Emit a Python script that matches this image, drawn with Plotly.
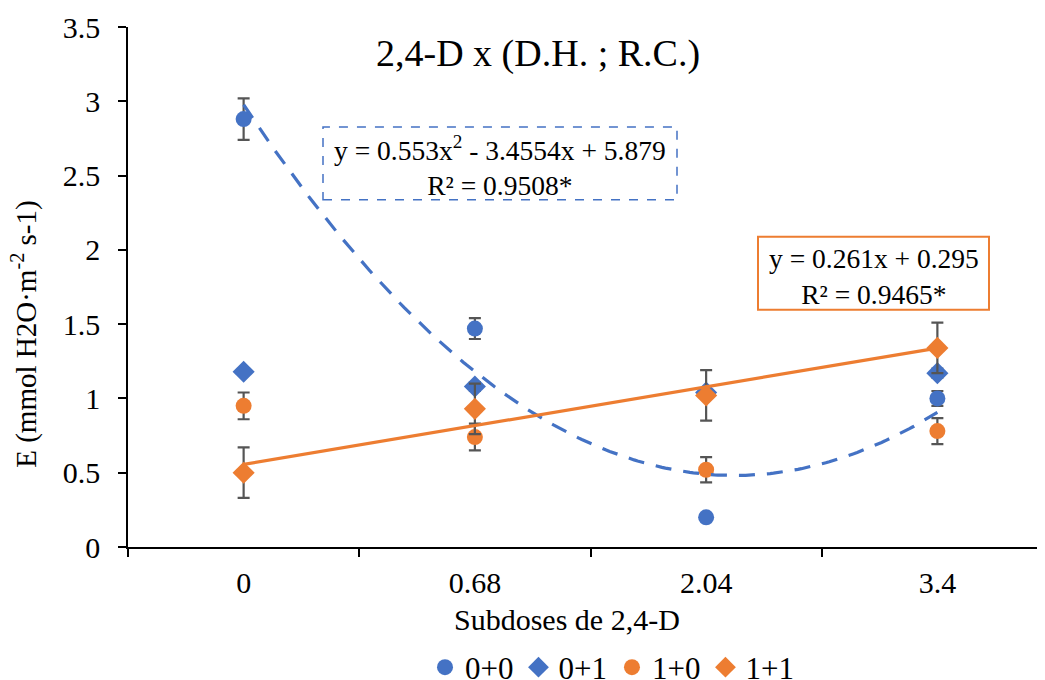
import numpy as np
import plotly.graph_objects as go

# ---- data ----
categories = ["0", "0.68", "2.04", "3.4"]
x_pos = [1, 2, 3, 4]
y_00 = [2.88, 1.47, 0.20, 1.00]
e_00 = [0.14, 0.07, 0.0, 0.05]
y_01 = [1.18, 1.08, 1.04, 1.17]
e_01 = [0.02, 0.03, 0.02, 0.03]
y_10 = [0.95, 0.74, 0.52, 0.78]
e_10 = [0.09, 0.09, 0.085, 0.087]
y_11 = [0.50, 0.93, 1.02, 1.34]
e_11 = [0.17, 0.17, 0.17, 0.17]
quad_coef = [0.553, -3.4554, 5.879]   # trendline for 0+0
lin_coef = [0.261, 0.295]             # trendline for 1+1
y_ticks = [0, 0.5, 1, 1.5, 2, 2.5, 3, 3.5]

BLUE = "#4472C4"
ORANGE = "#ED7D31"
ERR = "#555555"
FONT = "Times New Roman, Liberation Serif, DejaVu Serif, serif"

# page body has an 8px margin: the figure is offset by (8, 8)
OFF = 8
PL, PR, PT, PB = 128, 1053, 27, 547.4   # plot area on screen (px)
PW, PH = PR - PL, PB - PT

def px(x):
    return (x - PL) / PW

def py(y):
    return (PB - y) / PH

fig = go.Figure()

def add_series(y, e, name, color, symbol):
    fig.add_trace(go.Scatter(
        x=x_pos, y=y, name=name, mode="markers",
        marker=dict(color=color, symbol=symbol, size=16 if symbol == "circle" else 17,
                    line=dict(width=0)),
        error_y=dict(type="data", array=e, visible=True, color=ERR,
                     thickness=2.2, width=6),
    ))

add_series(y_00, e_00, "0+0", BLUE, "circle")
add_series(y_01, e_01, "0+1", BLUE, "diamond")
add_series(y_10, e_10, "1+0", ORANGE, "circle")
add_series(y_11, e_11, "1+1", ORANGE, "diamond")

xq = np.linspace(1, 4, 200)
fig.add_trace(go.Scatter(x=xq, y=np.polyval(quad_coef, xq), mode="lines",
                         line=dict(color=BLUE, width=3.2, dash="16px,12px"),
                         showlegend=False, hoverinfo="skip"))
xl = np.array([1, 4])
fig.add_trace(go.Scatter(x=xl, y=np.polyval(lin_coef, xl), mode="lines",
                         line=dict(color=ORANGE, width=3.2),
                         showlegend=False, hoverinfo="skip"))

# invisible trace for category-boundary ticks on a secondary x axis
fig.add_trace(go.Scatter(x=[1], y=[None], xaxis="x2", showlegend=False,
                         hoverinfo="skip"))

W, H = 1045, 680
fig.update_layout(
    width=W, height=H,
    margin=dict(l=PL - OFF, r=W - (PR - OFF), t=PT - OFF, b=H - (PB - OFF),
                autoexpand=False),
    paper_bgcolor="white", plot_bgcolor="white",
    font=dict(family=FONT, color="black", size=26),
    showlegend=True,
    legend=dict(orientation="h", x=px(612), xanchor="center", y=py(668),
                yanchor="middle", font=dict(size=31, family=FONT),
                tracegroupgap=0, itemwidth=30),
    xaxis=dict(range=[0.5, 4.5], tickmode="array", tickvals=x_pos,
               ticktext=categories, ticks="", showgrid=False, zeroline=False,
               showline=True, linecolor="black", linewidth=1.5,
               ticklabelstandoff=8,
               tickfont=dict(size=30, family=FONT)),
    xaxis2=dict(range=[0.5, 4.5], overlaying="x", side="bottom",
                tickmode="array", tickvals=[0.5, 1.5, 2.5, 3.5], showticklabels=False,
                ticks="outside", ticklen=9, tickwidth=1.5, tickcolor="black",
                showgrid=False, zeroline=False, showline=False),
    yaxis=dict(range=[0, 3.5], tickmode="array", tickvals=y_ticks,
               ticktext=[f"{v:g}" for v in y_ticks],
               ticks="outside", ticklen=8, tickwidth=1.5, tickcolor="black",
               showgrid=False, zeroline=False, showline=True,
               linecolor="black", linewidth=1.5, ticklabelstandoff=12,
               tickfont=dict(size=30, family=FONT)),
)

annotations = [
    dict(text="2,4-D x (D.H. ; R.C.)", x=px(538), y=py(54), xref="paper", yref="paper",
         showarrow=False, font=dict(size=38, family=FONT), xanchor="center",
         yanchor="middle"),
    dict(text="Subdoses de 2,4-D", x=px(567), y=py(620), xref="paper", yref="paper",
         showarrow=False, font=dict(size=30, family=FONT), xanchor="center",
         yanchor="middle"),
    dict(text="E (mmol H2O·m<sup>-2</sup> s-1)", x=px(25), y=py(335), xref="paper",
         yref="paper", showarrow=False, textangle=-90,
         font=dict(size=29, family=FONT), xanchor="center", yanchor="middle"),
    dict(text="y = 0.553x<sup>2</sup> - 3.4554x + 5.879<br>R² = 0.9508*",
         x=px(500), y=py(166), xref="paper", yref="paper", showarrow=False,
         font=dict(size=27.5, family=FONT), xanchor="center", yanchor="middle",
         align="center"),
    dict(text="y = 0.261x + 0.295<br>R² = 0.9465*",
         x=px(874), y=py(277), xref="paper", yref="paper", showarrow=False,
         font=dict(size=27.5, family=FONT), xanchor="center", yanchor="middle",
         align="center"),
]
fig.update_layout(annotations=annotations)

shapes = [
    dict(type="rect", xref="paper", yref="paper",
         x0=px(323), x1=px(677), y0=py(200), y1=py(127),
         line=dict(color=BLUE, width=1.5, dash="dash"), fillcolor="white",
         layer="below"),
    dict(type="rect", xref="paper", yref="paper",
         x0=px(758), x1=px(989), y0=py(310), y1=py(237),
         line=dict(color=ORANGE, width=2), fillcolor="white", layer="below"),
]
fig.update_layout(shapes=shapes)

fig.write_html("out.html")
